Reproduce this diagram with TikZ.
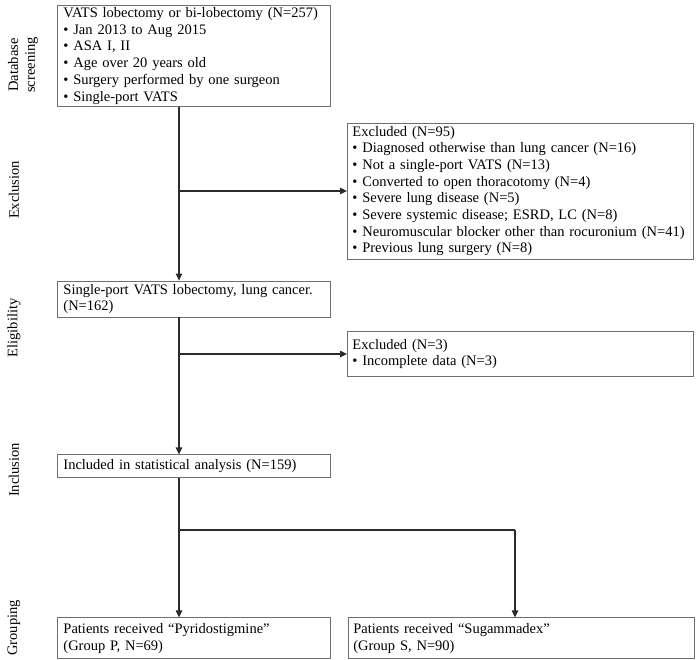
\documentclass[tikz,border=0pt]{standalone}
\usepackage{fontspec}
\setmainfont{Liberation Serif}
\usetikzlibrary{arrows.meta,positioning,calc}
\definecolor{Frame}{HTML}{6E6E6E}
\definecolor{Line}{HTML}{2B2B2B}

\begin{document}
\begin{tikzpicture}[x=1pt,y=1pt,
    font=\fontsize{14.5}{16.7}\selectfont,
    box/.style={draw=Frame,line width=0.9pt,align=left,inner xsep=6pt,inner ysep=2pt,anchor=north west},
    lbox/.style={box,text width=261pt,minimum width=273pt},
    rbox/.style={box,inner xsep=5pt,text width=336pt,minimum width=346pt},
    a/.style={-{Triangle[length=7pt,width=6.5pt]},line width=1.2pt,draw=Line},
    lab/.style={rotate=90,align=center}]
  \useasboundingbox (0,0) rectangle (699,-660);
  % stage labels
  \node[lab] (lscr) at (23,-65) {Database\\screening};
  \node[lab] (lexc) at (14,-190) {Exclusion};
  \node[lab] (lelg) at (14,-328) {Eligibility};
  \node[lab] (linc) at (14,-470) {Inclusion};
  \node[lab] (lgrp) at (14,-628) {Grouping};
  % main column
  \node[lbox,minimum height=98pt] (db) at (57,-5) {VATS lobectomy or bi-lobectomy (N=257)\\
    • Jan 2013 to Aug 2015\\ • ASA I, II\\ • Age over 20 years old\\
    • Surgery performed by one surgeon\\ • Single-port VATS};
  \node[lbox,minimum height=36pt,below=174pt of db] (elig) {Single-port VATS lobectomy, lung cancer.\\(N=162)};
  \node[lbox,minimum height=23pt,below=137pt of elig] (incl) {Included in statistical analysis (N=159)};
  \node[lbox,minimum height=41pt,below=139pt of incl] (grpP) {Patients received “Pyridostigmine”\\(Group P, N=69)};
  \node[rbox,minimum height=41pt,right=17pt of grpP] (grpS) {Patients received “Sugammadex”\\(Group S, N=90)};
  % junctions
  \coordinate (j1) at (179,-191);
  \coordinate (j2) at (179,-354);
  \coordinate (j3) at (179,-530);
  \coordinate (j4) at (515,-530);
  % excluded boxes
  \node[rbox,minimum height=136pt,right=168pt of j1] (ex1) {Excluded (N=95)\\
    • Diagnosed otherwise than lung cancer (N=16)\\ • Not a single-port VATS (N=13)\\
    • Converted to open thoracotomy (N=4)\\ • Severe lung disease (N=5)\\
    • Severe systemic disease; ESRD, LC (N=8)\\
    • Neuromuscular blocker other than rocuronium (N=41)\\ • Previous lung surgery (N=8)};
  \node[rbox,minimum height=45pt,right=168pt of j2] (ex2) {Excluded (N=3)\\ • Incomplete data (N=3)};
  % connectors
  \draw[a] (db.south -| j1) -- (elig.north -| j1);
  \draw[a] (j1) -- (ex1);
  \draw[a] (elig.south -| j2) -- (incl.north -| j2);
  \draw[a] (j2) -- (ex2);
  \draw[a] (incl.south -| j3) -- (grpP.north -| j3);
  \draw[line width=1.2pt,draw=Line] (j3) -- (j4);
  \draw[a] (j4) -- (grpS.north -| j4);
\end{tikzpicture}
\end{document}
